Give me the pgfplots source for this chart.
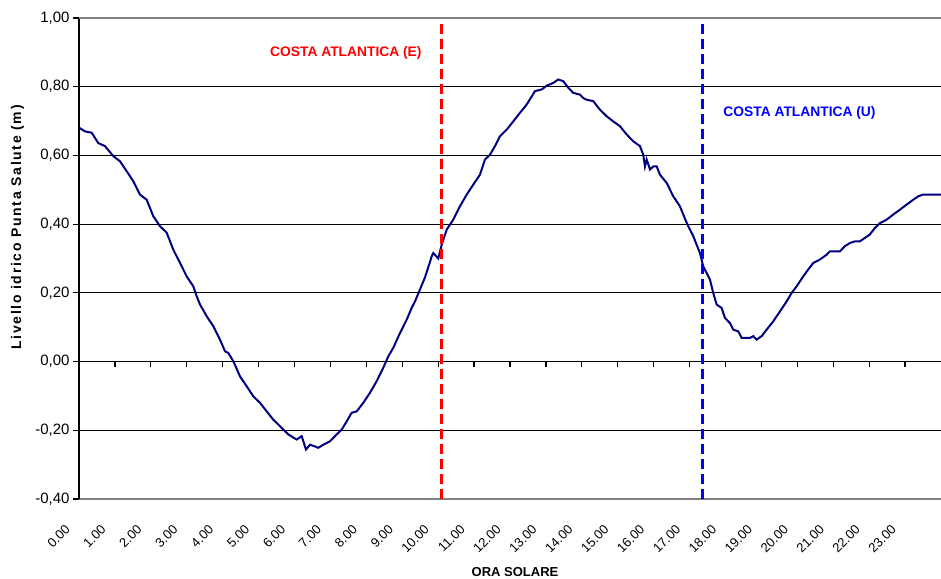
\documentclass[border=0pt]{standalone}
\usepackage{fontspec}
\setmainfont{Liberation Sans}
\usepackage{pgfplots}
\pgfplotsset{compat=1.18}
\definecolor{navyc}{RGB}{0,0,128}
\definecolor{bordgray}{RGB}{128,128,128}
\begin{document}
\begin{tikzpicture}
\begin{axis}[
  name=ax,
  scale only axis, width=862pt, height=481pt,
  xmin=0, xmax=24, ymin=-0.4, ymax=1.0,
  axis x line*=bottom, axis y line*=left,
  x axis line style={-, draw=bordgray, line width=2.5pt},
  y axis line style={-, draw=black, line width=1.5pt},
  xtick={0,1,2,3,4,5,6,7,8,9,10,11,12,13,14,15,16,17,18,19,20,21,22,23},
  xticklabels={0.00,1.00,2.00,3.00,4.00,5.00,6.00,7.00,8.00,9.00,10.00,11.00,12.00,13.00,14.00,15.00,16.00,17.00,18.00,19.00,20.00,21.00,22.00,23.00},
  x tick style={draw=none},
  xticklabel style={xshift=-9pt, yshift=-26pt, rotate=45, anchor=east, font=\fontsize{13}{13}\selectfont},
  ytick={-0.4,-0.2,0,0.2,0.4,0.6,0.8,1.0},
  yticklabels={{-0,40},{-0,20},{0,00},{0,20},{0,40},{0,60},{0,80},{1,00}},
  ytick align=outside, major tick length=6pt,
  y tick style={black, line width=1.2pt},
  yticklabel style={font=\fontsize{15}{15}\selectfont, anchor=east},
  ymajorgrids, grid style={black, line width=1.2pt},
  xlabel={ORA SOLARE},
  xlabel style={at={(axis description cs:0.5058,-0.1511)}, anchor=center, font=\bfseries\fontsize{13}{13}\selectfont},
  ylabel={\addfontfeatures{LetterSpace=12}Livello idrico Punta Salute (m)},
  ylabel style={at={(axis description cs:-0.0713,0.5644)}, anchor=center, font=\bfseries\fontsize{14}{14}\selectfont},
  clip=false,
]
\addplot[navyc, line width=2pt] coordinates {
(0,0.681) (0.167,0.670) (0.354,0.666) (0.537,0.636) (0.724,0.627) (0.955,0.598)
(1.141,0.583) (1.328,0.554) (1.512,0.525) (1.698,0.486) (1.885,0.471) (2.068,0.423)
(2.255,0.394) (2.442,0.375) (2.625,0.326) (2.812,0.287) (2.998,0.248) (3.182,0.219)
(3.277,0.190) (3.369,0.166) (3.555,0.132) (3.739,0.103) (3.925,0.064) (4.065,0.030)
(4.157,0.025) (4.296,0.001) (4.482,-0.043) (4.669,-0.072) (4.852,-0.101) (5.039,-0.120)
(5.226,-0.145) (5.409,-0.169) (5.643,-0.193) (5.827,-0.212) (6.061,-0.227) (6.200,-0.217)
(6.320,-0.256) (6.431,-0.242) (6.570,-0.247) (6.662,-0.251) (6.801,-0.242) (6.988,-0.232)
(7.174,-0.212) (7.314,-0.198) (7.453,-0.174) (7.592,-0.149) (7.731,-0.145) (7.915,-0.120)
(8.101,-0.091) (8.288,-0.057) (8.472,-0.018) (8.611,0.015) (8.750,0.040) (8.937,0.083)
(9.123,0.122) (9.262,0.156) (9.354,0.175) (9.494,0.210) (9.633,0.245) (9.772,0.290)
(9.819,0.306) (9.864,0.316) (10.003,0.300) (10.097,0.340) (10.237,0.384) (10.420,0.413)
(10.607,0.452) (10.794,0.486) (10.977,0.515) (11.164,0.544) (11.303,0.588) (11.442,0.602)
(11.581,0.627) (11.721,0.656) (11.907,0.675) (12.091,0.699) (12.277,0.724) (12.464,0.748)
(12.695,0.787) (12.881,0.792) (13.021,0.803) (13.204,0.811) (13.344,0.821) (13.483,0.816)
(13.622,0.797) (13.761,0.782) (13.948,0.777) (14.040,0.767) (14.135,0.762) (14.318,0.758)
(14.505,0.733) (14.691,0.714) (14.875,0.699) (15.061,0.685) (15.248,0.661) (15.432,0.641)
(15.618,0.627) (15.710,0.602) (15.757,0.568) (15.805,0.588) (15.897,0.559) (15.989,0.568)
(16.083,0.568) (16.175,0.544) (16.361,0.520) (16.545,0.481) (16.731,0.452) (16.918,0.404)
(17.102,0.365) (17.288,0.316) (17.380,0.277) (17.567,0.239) (17.658,0.200) (17.753,0.166)
(17.892,0.156) (17.984,0.127) (18.123,0.112) (18.215,0.093) (18.355,0.088) (18.449,0.069)
(18.680,0.069) (18.772,0.074) (18.867,0.064) (19.006,0.074) (19.145,0.093) (19.329,0.117)
(19.516,0.146) (19.702,0.175) (19.841,0.200) (19.981,0.219) (20.164,0.248) (20.303,0.268)
(20.443,0.287) (20.629,0.297) (20.816,0.311) (20.907,0.321) (21.186,0.321) (21.325,0.336)
(21.464,0.345) (21.604,0.350) (21.743,0.350) (21.882,0.360) (22.021,0.370) (22.160,0.389)
(22.300,0.403) (22.486,0.413) (22.670,0.428) (22.856,0.442) (23.043,0.457) (23.227,0.471)
(23.366,0.481) (23.505,0.486) (24.0,0.486)
};
\addplot[red, line width=3pt, dash pattern=on 10pt off 5pt] coordinates {(10.08,-0.4) (10.08,1.0)};
\addplot[blue, line width=3pt, dash pattern=on 10pt off 5pt] coordinates {(17.37,-0.4) (17.37,1.0)};
\pgfplotsinvokeforeach{1,...,23}{\draw[black, line width=1.2pt] (axis cs:#1,0) -- ++(0pt,-5pt);}
\draw[bordgray, line width=2.5pt] (rel axis cs:0,1) -- (rel axis cs:1,1);
\node[text=red, font=\bfseries\fontsize{13.8}{14}\selectfont] at (axis cs:7.43,0.899) {COSTA ATLANTICA (E)};
\node[text=blue, font=\bfseries\fontsize{13.8}{14}\selectfont] at (axis cs:20.06,0.7226) {COSTA ATLANTICA (U)};
\end{axis}
\pgfresetboundingbox
\path ([xshift=-79pt,yshift=-79pt]ax.south west) rectangle ([yshift=18pt]ax.north east);
\end{tikzpicture}
\end{document}
